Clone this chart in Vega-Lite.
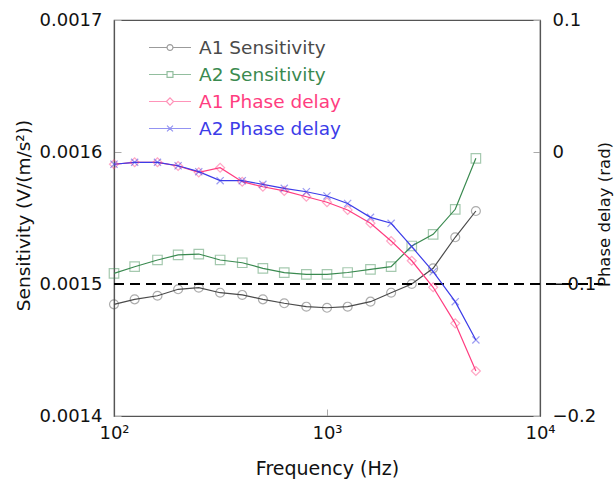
{
  "$schema": "https://vega.github.io/schema/vega-lite/v6.json",
  "autosize": "none",
  "width": 426,
  "height": 396,
  "padding": {"left": 114, "top": 20, "right": 75, "bottom": 65},
  "background": "white",
  "config": {
    "view": {"stroke": "#555", "strokeWidth": 1.2},
    "font": "DejaVu Sans",
    "axis": {
      "grid": false,
      "labelFont": "DejaVu Sans",
      "titleFont": "DejaVu Sans",
      "labelFontSize": 18,
      "titleFontSize": 19,
      "titleFontWeight": "normal",
      "labelColor": "#111",
      "titleColor": "#111",
      "domainColor": "#555",
      "domainWidth": 1.2,
      "tickColor": "#aaa",
      "tickSize": -7
    }
  },
  "datasets": {
    "sens": [
      {"f": 100, "s": "A1 Sensitivity", "v": 0.0014846},
      {"f": 125, "s": "A1 Sensitivity", "v": 0.0014884},
      {"f": 160, "s": "A1 Sensitivity", "v": 0.0014911},
      {"f": 200, "s": "A1 Sensitivity", "v": 0.001496},
      {"f": 250, "s": "A1 Sensitivity", "v": 0.0014972},
      {"f": 315, "s": "A1 Sensitivity", "v": 0.0014934},
      {"f": 400, "s": "A1 Sensitivity", "v": 0.0014917},
      {"f": 500, "s": "A1 Sensitivity", "v": 0.0014884},
      {"f": 630, "s": "A1 Sensitivity", "v": 0.0014854},
      {"f": 800, "s": "A1 Sensitivity", "v": 0.0014828},
      {"f": 1000, "s": "A1 Sensitivity", "v": 0.001482},
      {"f": 1250, "s": "A1 Sensitivity", "v": 0.0014828},
      {"f": 1600, "s": "A1 Sensitivity", "v": 0.0014866},
      {"f": 2000, "s": "A1 Sensitivity", "v": 0.0014934},
      {"f": 2500, "s": "A1 Sensitivity", "v": 0.0015},
      {"f": 3150, "s": "A1 Sensitivity", "v": 0.0015119},
      {"f": 4000, "s": "A1 Sensitivity", "v": 0.0015354},
      {"f": 5000, "s": "A1 Sensitivity", "v": 0.0015553},
      {"f": 100, "s": "A2 Sensitivity", "v": 0.0015081},
      {"f": 125, "s": "A2 Sensitivity", "v": 0.0015131},
      {"f": 160, "s": "A2 Sensitivity", "v": 0.0015182},
      {"f": 200, "s": "A2 Sensitivity", "v": 0.001522},
      {"f": 250, "s": "A2 Sensitivity", "v": 0.0015227},
      {"f": 315, "s": "A2 Sensitivity", "v": 0.0015182},
      {"f": 400, "s": "A2 Sensitivity", "v": 0.0015161},
      {"f": 500, "s": "A2 Sensitivity", "v": 0.0015119},
      {"f": 630, "s": "A2 Sensitivity", "v": 0.0015086},
      {"f": 800, "s": "A2 Sensitivity", "v": 0.0015073},
      {"f": 1000, "s": "A2 Sensitivity", "v": 0.0015073},
      {"f": 1250, "s": "A2 Sensitivity", "v": 0.0015087},
      {"f": 1600, "s": "A2 Sensitivity", "v": 0.0015111},
      {"f": 2000, "s": "A2 Sensitivity", "v": 0.0015131},
      {"f": 2500, "s": "A2 Sensitivity", "v": 0.0015288},
      {"f": 3150, "s": "A2 Sensitivity", "v": 0.0015376},
      {"f": 4000, "s": "A2 Sensitivity", "v": 0.0015566},
      {"f": 5000, "s": "A2 Sensitivity", "v": 0.0015952}
    ],
    "phase": [
      {"f": 100, "s": "A1 Phase delay", "v": -0.0093},
      {"f": 125, "s": "A1 Phase delay", "v": -0.0078},
      {"f": 160, "s": "A1 Phase delay", "v": -0.0078},
      {"f": 200, "s": "A1 Phase delay", "v": -0.0106},
      {"f": 250, "s": "A1 Phase delay", "v": -0.0154},
      {"f": 315, "s": "A1 Phase delay", "v": -0.0119},
      {"f": 400, "s": "A1 Phase delay", "v": -0.0225},
      {"f": 500, "s": "A1 Phase delay", "v": -0.0263},
      {"f": 630, "s": "A1 Phase delay", "v": -0.0295},
      {"f": 800, "s": "A1 Phase delay", "v": -0.0339},
      {"f": 1000, "s": "A1 Phase delay", "v": -0.0381},
      {"f": 1250, "s": "A1 Phase delay", "v": -0.0439},
      {"f": 1600, "s": "A1 Phase delay", "v": -0.054},
      {"f": 2000, "s": "A1 Phase delay", "v": -0.0674},
      {"f": 2500, "s": "A1 Phase delay", "v": -0.0824},
      {"f": 3150, "s": "A1 Phase delay", "v": -0.1025},
      {"f": 4000, "s": "A1 Phase delay", "v": -0.1298},
      {"f": 5000, "s": "A1 Phase delay", "v": -0.1659},
      {"f": 100, "s": "A2 Phase delay", "v": -0.0093},
      {"f": 125, "s": "A2 Phase delay", "v": -0.0078},
      {"f": 160, "s": "A2 Phase delay", "v": -0.0078},
      {"f": 200, "s": "A2 Phase delay", "v": -0.0104},
      {"f": 250, "s": "A2 Phase delay", "v": -0.0149},
      {"f": 315, "s": "A2 Phase delay", "v": -0.0217},
      {"f": 400, "s": "A2 Phase delay", "v": -0.0217},
      {"f": 500, "s": "A2 Phase delay", "v": -0.0245},
      {"f": 630, "s": "A2 Phase delay", "v": -0.0275},
      {"f": 800, "s": "A2 Phase delay", "v": -0.0301},
      {"f": 1000, "s": "A2 Phase delay", "v": -0.0333},
      {"f": 1250, "s": "A2 Phase delay", "v": -0.039},
      {"f": 1600, "s": "A2 Phase delay", "v": -0.0495},
      {"f": 2000, "s": "A2 Phase delay", "v": -0.054},
      {"f": 2500, "s": "A2 Phase delay", "v": -0.0717},
      {"f": 3150, "s": "A2 Phase delay", "v": -0.0907},
      {"f": 4000, "s": "A2 Phase delay", "v": -0.1134},
      {"f": 5000, "s": "A2 Phase delay", "v": -0.1424}
    ],
    "ref": [{"f": 100, "f2": 19800, "v": 0.0015}]
  },
  "encoding": {
    "x": {
      "field": "f",
      "type": "quantitative",
      "scale": {"type": "log", "domain": [100, 10000], "nice": false},
      "axis": {
        "title": "Frequency (Hz)",
        "values": [100, 1000, 10000],
        "labelExpr": "datum.value == 100 ? '10²' : datum.value == 1000 ? '10³' : '10⁴'",
        "labelFlush": false,
        "labelPadding": 15,
        "titleY": 52,
        "titleBaseline": "middle"
      }
    }
  },
  "layer": [
    {
      "data": {"name": "sens"},
      "encoding": {
        "y": {
          "field": "v",
          "type": "quantitative",
          "scale": {"domain": [0.0014, 0.0017], "nice": false, "zero": false},
          "axis": {
            "title": "Sensitivity (V/(m/s²))",
            "values": [0.0014, 0.0015, 0.0016, 0.0017],
            "format": ".4f",
            "labelPadding": 19,
            "titleFontSize": 18.5,
            "titleX": -91,
            "titleY": 195,
            "titleAngle": 270,
            "titleAlign": "center",
            "titleBaseline": "middle"
          }
        }
      },
      "layer": [
        {
          "mark": {"type": "line", "strokeWidth": 1.2},
          "encoding": {
            "color": {
              "field": "s", "type": "nominal",
              "scale": {"domain": ["A1 Sensitivity", "A2 Sensitivity", "A1 Phase delay", "A2 Phase delay"], "range": ["#4a4a4a", "#3a8a50", "#ff3d80", "#3c3ce8"]},
              "legend": {
                "orient": "none", "legendX": 44.5, "legendY": 16, "title": null, "padding": 0,
                "symbolSize": 441, "symbolStrokeWidth": 1.2, "symbolOpacity": 0.55, "labelFontSize": 18.5, "labelFont": "DejaVu Sans", "labelOffset": 17.5, "rowPadding": 6,
                "encoding": {
                  "labels": {"fill": {"value": {"expr": "scale('color', datum.value)"}}},
                  "symbols": {"shape": {"value": {"expr": "datum.value == 'A1 Sensitivity' ? 'M-2,0L-0.28,0M0.28,0L2,0M0.28,0A0.28,0.28,0,1,1,-0.28,0A0.28,0.28,0,1,1,0.28,0' : datum.value == 'A2 Sensitivity' ? 'M-2,0L-0.28,0M0.28,0L2,0M-0.28,-0.28L0.28,-0.28L0.28,0.28L-0.28,0.28Z' : datum.value == 'A1 Phase delay' ? 'M-2,0L-0.34,0M0.34,0L2,0M-0.34,0L0,-0.34L0.34,0L0,0.34Z' : 'M-2,0L2,0M-0.28,-0.28L0.28,0.28M-0.28,0.28L0.28,-0.28'"}}}
                }
              }
            }
          }
        },
        {
          "transform": [{"filter": "datum.s == 'A1 Sensitivity'"}],
          "mark": {"type": "point", "filled": false, "size": 80, "opacity": 0.45, "strokeWidth": 1.2, "shape": "circle", "color": "#4a4a4a"}
        },
        {
          "transform": [{"filter": "datum.s == 'A2 Sensitivity'"}],
          "mark": {"type": "point", "filled": false, "size": 90, "opacity": 0.45, "strokeWidth": 1.2, "shape": "square", "color": "#3a8a50"}
        },
        {
          "data": {"name": "ref"},
          "mark": {"type": "rule", "strokeDash": [10, 6], "strokeWidth": 2, "color": "black", "clip": false},
          "encoding": {
            "x": {"field": "f", "type": "quantitative"},
            "x2": {"field": "f2"},
            "y": {"field": "v", "type": "quantitative"}
          }
        }
      ]
    },
    {
      "data": {"name": "phase"},
      "encoding": {
        "y": {
          "field": "v",
          "type": "quantitative",
          "scale": {"domain": [-0.2, 0.1], "nice": false, "zero": false},
          "axis": {
            "orient": "right",
            "title": "Phase delay (rad)",
            "values": [-0.2, -0.1, 0, 0.1],
            "format": ".1~f",
            "labelPadding": 19,
            "titleFontSize": 16.5,
            "titleX": 64,
            "titleY": 194,
            "titleAngle": 270,
            "titleAlign": "center",
            "titleBaseline": "middle"
          }
        }
      },
      "layer": [
        {
          "mark": {"type": "line", "strokeWidth": 1.2},
          "encoding": {
            "color": {"field": "s", "type": "nominal"}
          }
        },
        {
          "transform": [{"filter": "datum.s == 'A1 Phase delay'"}],
          "mark": {"type": "point", "filled": false, "size": 80, "opacity": 0.45, "strokeWidth": 1.2, "shape": "diamond", "color": "#ff3d80"}
        },
        {
          "transform": [{"filter": "datum.s == 'A2 Phase delay'"}],
          "mark": {"type": "point", "filled": false, "size": 80, "opacity": 0.5, "strokeWidth": 1.2, "shape": "M-0.8,-0.8L0.8,0.8M-0.8,0.8L0.8,-0.8", "color": "#3c3ce8"}
        }
      ]
    }
  ],
  "resolve": {"scale": {"y": "independent"}}
}
